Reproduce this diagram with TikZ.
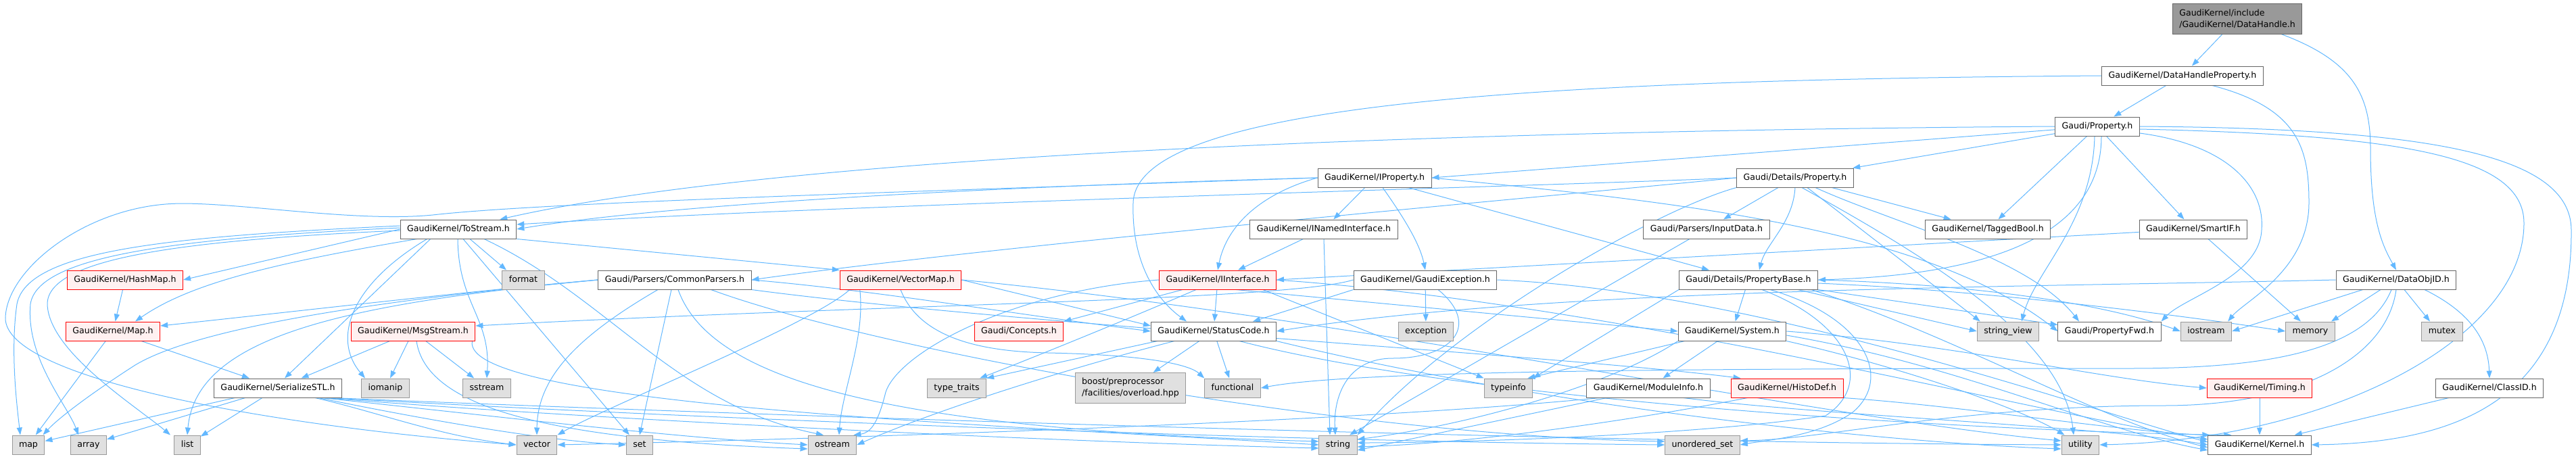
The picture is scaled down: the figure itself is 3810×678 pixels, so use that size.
\documentclass[tikz,border=0pt]{standalone}
\usepackage{fontspec}
\setmainfont{DejaVu Sans}
\usetikzlibrary{arrows.meta,calc}
\definecolor{edgec}{HTML}{63B8FF}
\definecolor{boxb}{HTML}{666666}
\definecolor{sysb}{HTML}{999999}
\definecolor{sysf}{HTML}{E0E0E0}
\definecolor{redb}{HTML}{FF0000}
\definecolor{redf}{HTML}{FFF0F0}
\definecolor{rootf}{HTML}{999999}
\pgfdeclarelayer{bg}
\pgfsetlayers{bg,main}
\newcommand{\fnt}{\fontsize{12.6}{17}\selectfont}
\begin{document}
\begin{tikzpicture}[x=1pt,y=-1pt,
  base/.style={line width=1pt, inner xsep=10pt, inner ysep=0pt, font=\fnt},
  box/.style={base, draw=boxb, fill=white, minimum height=28pt, text height=9.5pt, text depth=3pt},
  sys/.style={box, draw=sysb, fill=sysf},
  trunc/.style={box, draw=redb, fill=redf},
  rootbox/.style={base, draw=boxb, fill=rootf, minimum height=45pt, align=left},
  sysbox2/.style={base, draw=sysb, fill=sysf, minimum height=45pt, align=left},
  e/.style={draw=edgec, line width=1pt, -{Triangle[length=11pt,width=8pt]}}]
\useasboundingbox (0,0) rectangle (3810,678);
% row 0-4
\node[rootbox] (root) at (3309,27.5) {GaudiKernel/include\\/GaudiKernel/DataHandle.h};
\node[box] (dhp) at (3228,112) {GaudiKernel/DataHandleProperty.h};
\node[box] (prop) at (3102,187) {Gaudi/Property.h};
\node[box] (iprop) at (2033,263) {GaudiKernel/IProperty.h};
\node[box] (dprop) at (2655,263) {Gaudi/Details/Property.h};
\node[box] (tostream) at (678,339) {GaudiKernel/ToStream.h};
\node[box] (inamed) at (1958,339) {GaudiKernel/INamedInterface.h};
\node[box] (inputdata) at (2524,339) {Gaudi/Parsers/InputData.h};
\node[box] (tagged) at (2940,339) {GaudiKernel/TaggedBool.h};
\node[box] (smartif) at (3244,339) {GaudiKernel/SmartIF.h};
% row 5
\node[trunc] (hashmap) at (185,414) {GaudiKernel/HashMap.h};
\node[sys] (format) at (774,414) {format};
\node[box] (common) at (998,414) {Gaudi/Parsers/CommonParsers.h};
\node[trunc] (vectormap) at (1332,414) {GaudiKernel/VectorMap.h};
\node[trunc] (iinterface) at (1801,414) {GaudiKernel/IInterface.h};
\node[box] (gexc) at (2108,414) {GaudiKernel/GaudiException.h};
\node[box] (pbase) at (2586,414) {Gaudi/Details/PropertyBase.h};
\node[box] (dataobjid) at (3544,414) {GaudiKernel/DataObjID.h};
% row 6
\node[trunc] (maph) at (167,490) {GaudiKernel/Map.h};
\node[trunc] (msgstream) at (611,490) {GaudiKernel/MsgStream.h};
\node[trunc] (concepts) at (1507,490) {Gaudi/Concepts.h};
\node[box] (status) at (1795,490) {GaudiKernel/StatusCode.h};
\node[sys] (exception) at (2109,490) {exception};
\node[box] (system) at (2562,490) {GaudiKernel/System.h};
\node[sys] (sview) at (2970,490) {string\_view};
\node[box] (pfwd) at (3120,490) {Gaudi/PropertyFwd.h};
\node[sys] (iostream) at (3263,490) {iostream};
\node[sys] (memory) at (3417,490) {memory};
\node[sys] (mutex) at (3612,490) {mutex};
% row 7
\node[box] (serial) at (411,574) {GaudiKernel/SerializeSTL.h};
\node[sys] (iomanip) at (570,574) {iomanip};
\node[sys] (sstream) at (720,574) {sstream};
\node[sys] (typetraits) at (1415,574) {type\_traits};
\node[sysbox2] (boost) at (1672,574) {boost/preprocessor\\/facilities/overload.hpp};
\node[sys] (functional) at (1823,574) {functional};
\node[sys] (typeinfo) at (2231,574) {typeinfo};
\node[box] (moduleinfo) at (2438,574) {GaudiKernel/ModuleInfo.h};
\node[trunc] (histodef) at (2643,574) {GaudiKernel/HistoDef.h};
\node[trunc] (timing) at (3342,574) {GaudiKernel/Timing.h};
\node[box] (classid) at (3682,574) {GaudiKernel/ClassID.h};
% row 8
\node[sys] (map) at (42,658) {map};
\node[sys] (array) at (131,658) {array};
\node[sys] (list) at (277,658) {list};
\node[sys] (vector) at (794,658) {vector};
\node[sys] (set) at (946,658) {set};
\node[sys] (ostream) at (1231,658) {ostream};
\node[sys] (string) at (1979,658) {string};
\node[sys] (unordset) at (2518,658) {unordered\_set};
\node[sys] (utility) at (3077,658) {utility};
\node[box] (kernel) at (3342,658) {GaudiKernel/Kernel.h};

\begin{pgfonlayer}{bg}
% root
\draw[e] (root) -- (dhp);
\draw[e] ($(root.south)+(65,0)$) .. controls (3480,90) and (3506,140) .. (3506,220) .. controls (3506,330) and (3525,365) .. (dataobjid.north);
% DataHandleProperty
\draw[e] (dhp) -- (prop);
\draw[e] (dhp.west) .. controls (2300,118) and (1680,150) .. (1676,300) .. controls (1673,400) and (1720,450) .. ($(status.north)+(-40,0)$);
\draw[e] ($(dhp.south)+(44,0)$) .. controls (3400,160) and (3415,220) .. (3415,300) .. controls (3415,400) and (3320,445) .. ($(iostream.north east)+(-6,0)$);
% Property
\draw[e] (prop) -- (dprop);
\draw[e] (prop) -- (iprop.east);
\draw[e] (prop) -- (tagged);
\draw[e] (prop) -- (smartif);
\draw[e] (prop.west) .. controls (2300,192) and (1200,220) .. ($(tostream.north east)+(-25,0)$);
\draw[e] ($(prop.south)+(6,0)$) .. controls (3108,320) and (3000,405) .. (pbase.east);
\draw[e] ($(prop.south)+(-4,0)$) .. controls (3095,330) and (3010,400) .. ($(sview.north)+(20,0)$);
\draw[e] (prop.east) .. controls (3600,190) and (3802,230) .. (3803,340) .. controls (3805,600) and (3620,655) .. (kernel.east);
\draw[e] ($(prop.east)+(0,4)$) .. controls (3550,200) and (3733,230) .. (3733,330) .. controls (3733,500) and (3450,650) .. (utility.east);
\draw[e] ($(prop.east)+(0,10)$) .. controls (3300,215) and (3350,280) .. (3345,340) .. controls (3342,410) and (3230,440) .. (pfwd.north east);
% IProperty
\draw[e] (iprop) -- (inamed);
\draw[e] ($(iprop.south)+(12,0)$) .. controls (2075,320) and (2100,360) .. (gexc.north);
\draw[e] (iprop.west) .. controls (1870,285) and (1815,330) .. (iinterface.north);
\draw[e] (iprop.west) .. controls (1500,275) and (1000,300) .. (tostream.east);
\draw[e] (iprop.west) .. controls (1300,285) and (800,300) .. (640,318) .. controls (520,330) and (330,295) .. (245,302) .. controls (120,312) and (10,400) .. (8,470) .. controls (6,560) and (400,630) .. (vector.west);
\draw[e] ($(iprop.south)+(50,0)$) -- ($(pbase.north west)+(45,0)$);
\draw[e] (iprop.east) .. controls (2500,300) and (2850,340) .. (pfwd.west);
% INamedInterface
\draw[e] (inamed) -- ($(iinterface.north)+(30,0)$);
\draw[e] (inamed.south) -- ($(string.north)+(-12,0)$);
% Details/Property
\draw[e] (dprop) -- (inputdata);
\draw[e] (dprop) -- (tagged);
\draw[e] (dprop.south) .. controls (2652,330) and (2612,360) .. ($(pbase.north)+(16,0)$);
\draw[e] ($(dprop.south)+(18,0)$) -- ($(sview.north west)+(5,0)$);
\draw[e] ($(dprop.south)+(30,0)$) .. controls (2800,330) and (3000,380) .. ($(pfwd.north)+(-45,0)$);
\draw[e] ($(dprop.south)+(10,0)$) .. controls (2850,380) and (3050,500) .. ($(utility.north)+(-10,0)$);
\draw[e] (dprop.west) .. controls (2300,290) and (1500,360) .. (common.east);
\draw[e] (dprop.west) .. controls (2300,275) and (1300,300) .. ($(tostream.east)+(0,-7)$);
\draw[e] (dprop.south west) .. controls (2450,310) and (2150,480) .. (string.north east);
% InputData
\draw[e] (inputdata) -- ($(string.north)+(17,0)$);
% SmartIF
\draw[e] (smartif) -- (iinterface.east);
\draw[e] ($(smartif.south)+(22,0)$) -- ($(memory.north)+(-14,0)$);
% ToStream
\draw[e] (tostream.west) -- (hashmap.east);
\draw[e] ($(tostream.south west)+(25,0)$) .. controls (400,390) and (280,420) .. ($(maph.north)+(33,0)$);
\draw[e] ($(tostream.south)+(17,0)$) -- ($(format.north)+(-25,0)$);
\draw[e] ($(tostream.south west)+(45,0)$) -- ($(serial.north)+(10,0)$);
\draw[e] (tostream.south east) -- (vectormap.north west);
\draw[e] ($(tostream.west)+(0,-5)$) .. controls (250,350) and (40,370) .. (25,450) .. controls (15,520) and (25,600) .. ($(map.north)+(-12,0)$);
\draw[e] ($(tostream.west)+(0,-2)$) .. controls (250,353) and (55,380) .. (45,450) .. controls (38,530) and (100,600) .. ($(array.north)+(-15,0)$);
\draw[e] ($(tostream.west)+(0,2)$) .. controls (250,356) and (70,385) .. (70,450) .. controls (72,520) and (200,600) .. ($(list.north)+(-25,0)$);
\draw[e] ($(tostream.south west)+(40,0)$) .. controls (520,420) and (490,500) .. ($(iomanip.north)+(-30,0)$);
\draw[e] ($(tostream.south)+(-1,0)$) .. controls (678,450) and (726,470) .. (sstream.north);
\draw[e] ($(tostream.south)+(7,0)$) -- ($(set.north west)+(5,0)$);
\draw[e] ($(tostream.south)+(38,0)$) .. controls (900,440) and (1000,600) .. ($(ostream.north)+(-13,0)$);
% HashMap, Map
\draw[e] (hashmap) -- (maph);
\draw[e] (maph) -- (map);
\draw[e] (maph) -- (serial);
% MsgStream
\draw[e] (msgstream) -- (serial);
\draw[e] (msgstream) -- (iomanip);
\draw[e] (msgstream) -- (sstream);
\draw[e] ($(msgstream.south east)+(-5,0)$) .. controls (680,600) and (1500,630) .. (string.west);
\draw[e] ($(msgstream.south)+(5,0)$) .. controls (630,600) and (800,650) .. ($(ostream.west)+(0,6)$);
% SerializeSTL
\draw[e] (serial) -- (map);
\draw[e] (serial) -- (array);
\draw[e] (serial) -- (list);
\draw[e] ($(serial.south east)+(-40,0)$) .. controls (560,610) and (650,645) .. (vector.west);
\draw[e] ($(serial.south east)+(-35,0)$) .. controls (600,615) and (800,652) .. (set.west);
\draw[e] ($(serial.south east)+(-30,0)$) .. controls (700,612) and (1000,648) .. (ostream.west);
\draw[e] ($(serial.south east)+(-25,0)$) .. controls (800,615) and (1500,652) .. ($(string.west)+(0,5)$);
\draw[e] ($(serial.south east)+(-20,0)$) .. controls (900,612) and (1800,652) .. (unordset.west);
\draw[e] ($(serial.south east)+(-15,0)$) .. controls (1000,610) and (2300,655) .. (utility.west);
% CommonParsers
\draw[e] (common.west) .. controls (700,430) and (400,465) .. ($(maph.east)+(0,-8)$);
\draw[e] (common.west) .. controls (600,440) and (300,480) .. (200,540) .. controls (130,585) and (85,620) .. ($(map.north east)+(-3,0)$);
\draw[e] (common.west) .. controls (500,450) and (290,500) .. (list.north);
\draw[e] ($(common.south)+(-25,0)$) .. controls (850,500) and (795,560) .. (vector.north);
\draw[e] ($(common.south)+(-5,0)$) -- (set.north);
\draw[e] ($(common.south)+(5,0)$) .. controls (1050,560) and (1300,635) .. ($(string.west)+(0,-5)$);
\draw[e] ($(common.south east)+(-60,0)$) .. controls (1300,520) and (2000,645) .. ($(unordset.west)+(0,-5)$);
\draw[e] (common.east) .. controls (1300,430) and (1500,465) .. (status.west);
\draw[e] (common.south east) .. controls (1500,480) and (2300,525) .. ($(histodef.north west)+(15,0)$);
% VectorMap
\draw[e] ($(vectormap.south west)+(15,0)$) .. controls (1200,480) and (900,600) .. (vector.north east);
\draw[e] ($(vectormap.south west)+(30,0)$) .. controls (1280,500) and (1245,580) .. ($(ostream.north)+(10,0)$);
\draw[e] (vectormap.south) .. controls (1360,500) and (1450,520) .. (1550,522) .. controls (1700,525) and (1760,540) .. (functional.north west);
\draw[e] (vectormap.east) -- ($(status.west)+(0,-8)$);
\draw[e] (vectormap.east) .. controls (2000,470) and (2700,620) .. ($(utility.west)+(0,-6)$);
% IInterface
\draw[e] ($(iinterface.south west)+(35,0)$) -- (concepts.north east);
\draw[e] ($(iinterface.south west)+(55,0)$) .. controls (1650,480) and (1500,540) .. ($(typetraits.north east)+(-10,0)$);
\draw[e] (iinterface) -- (status);
\draw[e] ($(iinterface.south east)+(-60,0)$) -- (system.west);
\draw[e] (iinterface.west) .. controls (1500,430) and (1330,520) .. (1310,580) .. controls (1300,620) and (1290,640) .. ($(ostream.north east)+(-5,0)$);
\draw[e] ($(iinterface.south east)+(-20,0)$) -- (typeinfo.north west);
\draw[e] (iinterface.east) .. controls (2400,450) and (3000,610) .. ($(kernel.west)+(0,-8)$);
% GaudiException
\draw[e] (gexc) -- (exception);
\draw[e] ($(gexc.south)+(19,0)$) .. controls (2190,480) and (2150,530) .. (2060,530) .. controls (1990,530) and (1972,590) .. ($(string.north)+(-4,0)$);
\draw[e] (gexc.south west) -- ($(status.north east)+(-35,0)$);
\draw[e] (gexc.west) .. controls (1900,445) and (1300,450) .. ($(msgstream.east)+(0,-8)$);
\draw[e] (gexc.east) .. controls (2600,430) and (3100,610) .. ($(kernel.west)+(0,-4)$);
% PropertyBase
\draw[e] (pbase) -- (system);
\draw[e] ($(pbase.south east)+(-30,0)$) -- (sview.west);
\draw[e] (pbase.south east) -- ($(pfwd.north west)+(0,5)$);
\draw[e] (pbase.east) .. controls (2900,420) and (3100,445) .. (iostream.west);
\draw[e] ($(pbase.east)+(0,5)$) .. controls (2950,430) and (3250,470) .. (memory.west);
\draw[e] ($(pbase.south)+(32,0)$) .. controls (2760,470) and (2800,560) .. (2740,610) .. controls (2690,645) and (2620,650) .. (unordset.east);
\draw[e] ($(pbase.south)+(20,0)$) .. controls (2740,480) and (2770,570) .. (2700,615) .. controls (2500,645) and (2150,655) .. ($(string.east)+(0,-3)$);
\draw[e] (pbase.south west) -- (typeinfo.north east);
\draw[e] ($(pbase.south east)+(-10,0)$) .. controls (2900,500) and (3100,620) .. ($(kernel.west)+(0,4)$);
% System
\draw[e] (system) -- (moduleinfo);
\draw[e] ($(system.south west)+(10,0)$) -- ($(typeinfo.north east)+(-8,0)$);
\draw[e] (system.south west) .. controls (2400,560) and (2200,625) .. ($(string.east)+(0,-8)$);
\draw[e] (system.east) .. controls (2900,510) and (3100,560) .. (timing.west);
\draw[e] ($(system.east)+(0,6)$) .. controls (2900,540) and (3100,635) .. ($(kernel.west)+(0,8)$);
\draw[e] (system.south east) .. controls (2800,540) and (2980,600) .. ($(utility.north west)+(5,0)$);
% DataObjID
\draw[e] ($(dataobjid.south west)+(40,0)$) -- (iostream.east);
\draw[e] ($(dataobjid.south)+(-23,0)$) -- ($(memory.north)+(31,0)$);
\draw[e] ($(dataobjid.south)+(12,0)$) -- ($(mutex.north)+(-18,0)$);
\draw[e] ($(dataobjid.south)+(42,0)$) .. controls (3650,460) and (3680,500) .. (classid.north);
\draw[e] (dataobjid.west) .. controls (3000,425) and (2300,425) .. (status.east);
\draw[e] ($(dataobjid.south)+(-7,0)$) .. controls (3500,520) and (3350,545) .. (3150,545) .. controls (2500,545) and (2000,548) .. (functional.east);
\draw[e] (dataobjid.south) .. controls (3530,530) and (3400,600) .. (3200,600) .. controls (2900,600) and (2700,650) .. ($(unordset.east)+(0,-6)$);
% ModuleInfo
\draw[e] ($(moduleinfo.south east)+(-40,0)$) .. controls (2700,615) and (3100,630) .. (kernel.west);
\draw[e] ($(moduleinfo.south west)+(30,0)$) -- ($(string.east)+(0,8)$);
\draw[e] ($(moduleinfo.south west)+(20,0)$) .. controls (2000,625) and (1200,650) .. (vector.east);
% HistoDef
\draw[e] ($(histodef.south west)+(25,0)$) .. controls (2450,615) and (2200,655) .. ($(string.east)+(0,3)$);
\draw[e] (histodef.south east) .. controls (2900,600) and (3150,640) .. ($(kernel.north west)+(3,0)$);
% StatusCode
\draw[e] (status) -- (boost);
\draw[e] (status) -- (functional);
\draw[e] ($(status.south west)+(10,0)$) -- (typetraits.north east);
\draw[e] ($(status.south west)+(35,0)$) .. controls (1600,540) and (1400,600) .. (ostream.east);
\draw[e] ($(status.south east)+(-55,0)$) .. controls (2200,600) and (3000,640) .. ($(kernel.north west)+(35,0)$);
\draw[e] (status.south east) .. controls (2300,605) and (2800,655) .. ($(utility.west)+(0,6)$);
% Timing, ClassID
\draw[e] (timing) -- (kernel);
\draw[e] (classid) -- ($(kernel.north east)+(-25,0)$);
\end{pgfonlayer}
\end{tikzpicture}
\end{document}
